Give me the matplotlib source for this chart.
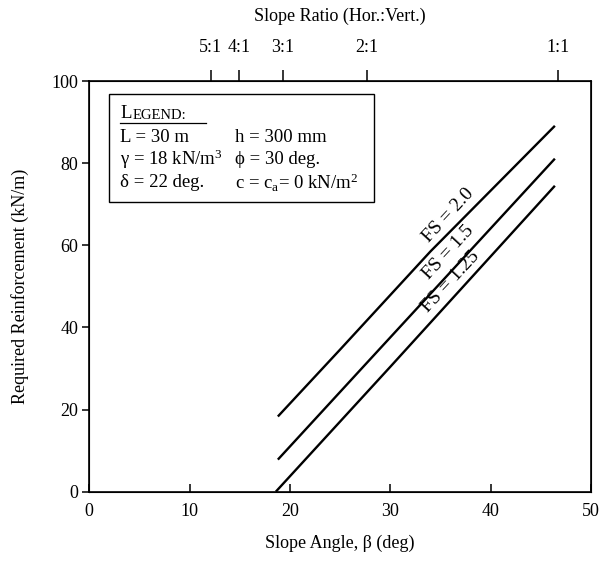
import numpy as np
import matplotlib
matplotlib.use("Agg")
import matplotlib.pyplot as plt
from matplotlib.patches import Rectangle

plt.rcParams['font.family'] = ['Liberation Serif', 'DejaVu Serif']
plt.rcParams['mathtext.fontset'] = 'custom'
plt.rcParams['mathtext.rm'] = 'Liberation Serif'
plt.rcParams['mathtext.it'] = 'Liberation Serif:italic'

# curves (slope angle deg, required reinforcement kN/m)
fs20_x = [18.8, 25.0, 34.0, 46.4]
fs20_y = [18.3, 34.6, 58.5, 89.1]
fs15_x = [18.8, 27.0, 46.4]
fs15_y = [7.8, 29.6, 81.1]
fs125_x = [18.6, 30.0, 46.4]
fs125_y = [0.0, 30.4, 74.5]

# label anchor positions along each curve
fs_labels = ["FS = 2.0", "FS = 1.5", "FS = 1.25"]
label_x = [35.8, 35.8, 36.0]
label_y = [67.2, 58.3, 51.0]

# slope ratio ticks on the top axis, located as drawn on the degree scale
ratio_pos = [12.1, 14.9, 19.3, 27.7, 46.7]
ratio_labels = ["5:1", "4:1", "3:1", "2:1", "1:1"]

x_ticks = [0, 10, 20, 30, 40, 50]
y_ticks = [0, 20, 40, 60, 80, 100]

fig = plt.figure(figsize=(6.15, 5.75), dpi=100)
ax = fig.add_axes([0.145, 0.145, 0.816, 0.714])
ax.set_xlim(0, 50)
ax.set_ylim(0, 100)

for xs, ys in [(fs20_x, fs20_y), (fs15_x, fs15_y), (fs125_x, fs125_y)]:
    ax.plot(xs, ys, color='black', lw=1.7, solid_capstyle='butt')

# rotate labels to follow the lines on screen
for txt, lx, ly in zip(fs_labels, label_x, label_y):
    p1 = ax.transData.transform((lx - 2, ly - 2 * 2.65))
    p2 = ax.transData.transform((lx + 2, ly + 2 * 2.65))
    ang = np.degrees(np.arctan2(p2[1] - p1[1], p2[0] - p1[0]))
    ax.text(lx, ly, txt, rotation=ang, rotation_mode='anchor',
            ha='center', va='center', fontsize=14)

ax.set_xticks(x_ticks)
ax.set_yticks(y_ticks)
ax.tick_params(axis='x', direction='in', length=6, width=1.1, pad=8, labelsize=13)
ax.tick_params(axis='y', direction='out', length=5, width=1.1, pad=3, labelsize=13)
for s in ax.spines.values():
    s.set_linewidth(1.2)

ax.set_xlabel("Slope Angle, β (deg)", fontsize=13, labelpad=11)
ax.set_ylabel("Required Reinforcement (kN/m)", fontsize=13, labelpad=16)

top = ax.twiny()
top.set_xlim(ax.get_xlim())
top.set_xticks(ratio_pos)
top.set_xticklabels(ratio_labels)
top.tick_params(axis='x', direction='out', length=8, width=1.1, pad=10, labelsize=13)
top.set_xlabel("Slope Ratio (Hor.:Vert.)", fontsize=13, labelpad=13)

# legend box
ax.add_patch(Rectangle((0.040, 0.706), 0.527, 0.262, transform=ax.transAxes,
                       fill=False, lw=1.0, color='black'))
t1 = ax.text(0.062, 0.910, "L", transform=ax.transAxes, fontsize=13.5,
             ha='left', va='baseline')
ax.annotate("EGEND:", xy=(1, 0), xycoords=t1, xytext=(0.5, 0),
            textcoords='offset points', fontsize=10.5, ha='left', va='bottom')
ax.plot([0.062, 0.232], [0.898, 0.898], transform=ax.transAxes,
        color='black', lw=0.9)

col1 = ["L = 30 m", "γ = 18 kN/m$^3$", "δ = 22 deg."]
col2 = ["h = 300 mm", "ϕ = 30 deg.", "c = c$_{\\rm a}$= 0 kN/m$^2$"]
rows_y = [0.862, 0.810, 0.752]
for a, b, yy in zip(col1, col2, rows_y):
    ax.text(0.062, yy, a, transform=ax.transAxes, fontsize=13.5, ha='left', va='center')
    ax.text(0.291, yy, b, transform=ax.transAxes, fontsize=13.5, ha='left', va='center')

fig.savefig("out.png", dpi=100)
